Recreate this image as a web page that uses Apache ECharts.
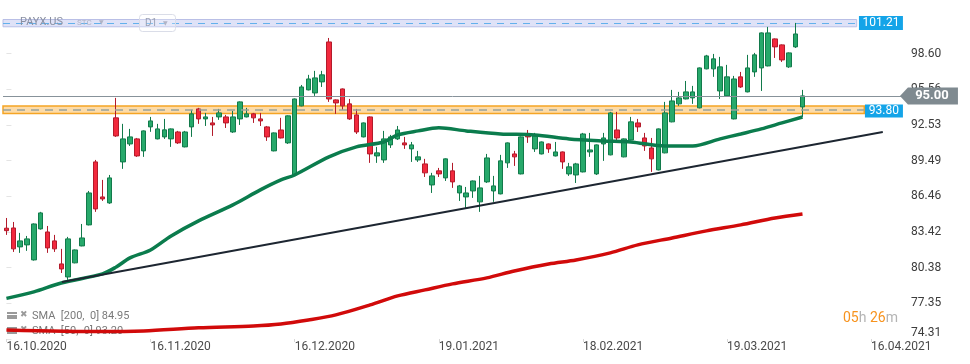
<!DOCTYPE html>
<html><head><meta charset="utf-8">
<script src="https://cdn.jsdelivr.net/npm/echarts@6/dist/echarts.min.js"></script>
<style>html,body{margin:0;padding:0;background:#fff}#c{width:970px;height:364px}</style>
</head><body><div id="c"></div>
<script>
// ---- data ----
const categoryCount = 131; // trading-day slots incl. future area
const tickPositions = [0, 21, 42, 63, 84, 105, 126];
const tickLabels = ['16.10.2020','16.11.2020','16.12.2020','19.01.2021','18.02.2021','19.03.2021','16.04.2021'];
const yTicks = [74.31, 77.35, 80.38, 83.42, 86.46, 89.49, 92.53, 95.56, 98.60];
// [open, close, low, high]
const ohlc = [
[83.74,83.53,83.17,84.61],[83.76,81.98,81.72,84.27],[82.15,82.66,81.64,83.34],[82.32,82.83,81.81,83.08],
[81.04,84.10,80.98,84.15],[83.68,85.04,83.62,85.13],[83.42,82.06,81.64,83.93],[82.66,81.98,81.72,83.17],
[80.70,80.27,79.93,81.98],[79.59,82.83,79.34,83.00],[80.79,81.89,80.75,81.93],[82.23,82.91,82.20,84.10],
[84.02,86.74,83.98,86.91],[89.38,85.38,85.13,89.55],[86.40,86.23,86.06,87.85],[85.89,88.02,85.81,88.27],
[93.13,91.59,91.51,94.83],[89.38,91.34,88.79,92.62],[90.91,91.51,90.74,92.19],[91.34,89.89,89.81,91.42],
[90.32,92.02,89.81,92.06],[92.36,92.87,91.94,93.21],[91.34,92.19,91.30,92.62],[91.51,92.11,91.34,93.04],
[91.34,92.19,90.66,92.23],[91.93,91.00,90.91,92.02],[90.66,91.93,90.62,92.02],[92.36,93.47,91.51,93.81],
[93.89,93.04,92.62,93.98],[93.04,93.21,92.44,93.55],[92.70,92.53,91.59,93.21],[93.21,93.55,92.96,93.89],
[93.21,92.70,92.27,93.38],[91.93,93.21,91.85,93.72],[93.04,94.49,92.53,94.53],[93.21,93.47,93.17,93.98],
[93.47,93.13,92.70,93.55],[93.04,92.87,92.44,93.55],[92.36,91.51,91.17,92.44],[90.32,91.85,90.28,91.89],
[92.10,91.42,91.38,93.13],[91.00,93.30,90.91,93.34],[88.27,94.74,88.23,94.78],[94.15,95.76,94.11,95.93],
[95.51,96.44,95.47,96.79],[95.25,96.53,95.00,97.13],[96.19,96.79,95.76,97.13],[99.59,94.74,94.49,99.93],
[94.66,94.40,93.47,94.70],[95.59,94.15,93.81,95.63],[94.32,93.04,92.96,94.74],[93.38,91.93,91.76,93.89],
[91.51,92.70,91.47,92.74],[93.21,90.06,89.30,93.25],[89.89,90.15,89.30,90.66],[89.55,91.34,89.30,92.02],
[90.83,91.51,90.57,91.68],[91.34,92.10,91.25,92.44],[91.00,90.83,90.49,91.51],[90.49,90.83,89.38,91.08],
[89.55,89.81,89.38,90.32],[89.21,88.45,88.10,89.64],[87.42,88.19,86.74,88.45],[88.62,88.36,88.10,88.87],
[88.02,89.64,87.76,89.68],[88.62,87.68,87.17,89.30],[86.74,87.34,86.06,87.42],[86.40,86.74,85.47,87.25],
[86.91,87.76,86.32,87.80],[85.98,87.17,85.13,88.19],[87.68,89.72,87.59,90.06],[86.91,87.34,85.98,88.19],
[86.66,89.47,86.62,89.98],[89.30,91.00,88.87,91.04],[90.06,89.81,89.04,90.32],[88.36,91.51,88.32,91.55],
[91.59,91.51,91.00,92.10],[90.49,91.59,90.23,91.85],[90.06,91.08,90.02,91.12],[90.91,90.49,90.15,90.95],
[89.89,90.23,89.85,91.08],[90.23,89.38,88.79,90.27],[88.36,88.96,88.19,89.30],[88.27,89.21,87.59,89.30],
[88.53,91.76,88.49,91.85],[90.23,90.40,89.81,91.85],[88.36,90.83,88.27,90.87],[90.91,91.42,89.47,91.85],
[89.98,93.55,89.94,93.64],[92.10,91.42,91.00,93.64],[89.81,91.34,89.77,91.38],[91.25,92.79,91.21,93.21],
[92.70,92.36,91.93,93.04],[91.42,90.74,90.32,91.85],[90.57,89.64,88.53,91.42],[88.70,92.19,88.66,92.23],
[90.15,93.55,90.11,94.49],[92.79,94.57,92.75,95.51],[94.32,94.83,94.15,95.34],[94.74,95.34,94.70,96.27],
[94.83,95.34,94.32,95.85],[93.98,97.38,93.94,97.42],[97.30,98.40,97.26,98.49],[97.30,98.15,96.62,98.57],
[95.42,97.47,94.74,98.32],[95.00,96.62,94.96,97.64],[93.04,96.44,93.00,96.70],[96.62,95.76,95.68,97.04],
[95.34,97.38,95.30,98.49],[97.04,98.49,96.62,98.66],[97.38,100.36,95.42,100.40],[97.55,100.36,97.51,100.87],
[99.85,99.17,98.23,99.89],[99.34,98.06,97.89,99.38],[97.47,98.66,97.38,98.70],[99.17,100.27,99.08,101.21],
[94.06,95.00,93.21,95.51]
];
// [slot index, value]
const sma50 = [[0,77.77],[4,78.32],[8,79.08],[14,79.85],[16,80.44],[18,81.21],[21,81.89],[24,83.08],[28,84.36],
[33,85.72],[37,87.00],[40,87.85],[42,88.27],[47,89.81],[51,90.66],[55,91.08],[57,91.68],[60,92.02],[63,92.28],
[67,92.02],[72,91.76],[77,91.68],[82,91.34],[87,91.17],[91,91.08],[96,90.74],[100,90.74],[104,91.34],[107,91.76],
[110,92.19],[113,92.70],[116,93.20]];
const sma200 = [[0,75.08],[14,74.94],[20,75.00],[28,75.26],[36,75.42],[40,75.59],[44,75.93],[48,76.36],[53,77.21],
[57,77.98],[61,78.49],[65,79.00],[70,79.51],[74,80.10],[79,80.70],[83,81.04],[88,81.64],[92,82.32],[97,82.91],
[102,83.51],[107,84.02],[112,84.61],[116,84.95]];
const trendLine = [[8.1,79.16],[127.7,91.93]];
const resistance = 101.21, resistanceBand = [100.88, 101.50], resistanceEnd = 123.9;
const support = 93.80, supportBand = [93.50, 94.13], supportEnd = 125.0;
const lastPrice = 95.00;
const sma200Label = 'SMA  [200,  0] 84.95';
const sma50Label = 'SMA  [50,  0] 93.20';
// ---------------------------------------

const cats = Array.from({length: categoryCount}, (_, i) => String(i));
const tickSet = new Set(tickPositions);
const labelMap = {};
tickPositions.forEach((p, k) => labelMap[p] = tickLabels[k]);
const FONT = 'Roboto, "Noto Sans", sans-serif';
const xMax = categoryCount - 0.5;

const chart = echarts.init(document.getElementById('c'), null, {renderer: 'canvas', width: 970, height: 364});
chart.setOption({
  animation: false,
  backgroundColor: '#ffffff',
  grid: {left: 3, right: 68, top: 0, bottom: 25, outerBoundsMode: 'none', containLabel: false},
  xAxis: [
    {type: 'category', data: cats, boundaryGap: true,
     axisLine: {show: false},
     axisTick: {show: true, interval: (i) => tickSet.has(i), alignWithLabel: true, length: 3, lineStyle: {color: '#d8d8d8'}},
     axisLabel: {interval: (i) => tickSet.has(i), formatter: (v, i) => labelMap[i] || '', align: 'left',
                 color: '#4a4a4a', fontSize: 12, fontFamily: FONT, margin: 2},
     splitLine: {show: false}},
    {type: 'value', min: -0.5, max: xMax, show: false}
  ],
  yAxis: {type: 'value', position: 'right', min: 74.31, max: 103.16,
    splitLine: {show: false}, axisLine: {show: false},
    axisTick: {show: true, customValues: yTicks, length: 5, lineStyle: {color: '#e4e4e4'}},
    axisLabel: {customValues: yTicks, margin: 9, color: '#3c3c3c', fontSize: 12, fontFamily: FONT, align: 'left',
      formatter: (v) => Math.abs(v - yTicks[0]) < 0.001 ? '{b|' + v.toFixed(2) + '}' : v.toFixed(2),
      rich: {b: {padding: [0, 0, 12, 0], color: '#3c3c3c', fontSize: 12, fontFamily: FONT}}}
  },
  series: [
    {type: 'candlestick', data: ohlc, barWidth: 5, z: 2,
     itemStyle: {color: '#27a96b', color0: '#f2293d', borderColor: '#127a4b', borderColor0: '#b31b2b', borderWidth: 1}},
    {type: 'line', xAxisIndex: 1, data: sma200, showSymbol: false, symbol: 'none', smooth: 0.3, z: 3,
     lineStyle: {color: '#d10a0a', width: 3.5}},
    {type: 'line', xAxisIndex: 1, data: sma50, showSymbol: false, symbol: 'none', smooth: 0.3, z: 3,
     lineStyle: {color: '#0b7c4d', width: 3.5}},
    {type: 'line', xAxisIndex: 1, data: trendLine, showSymbol: false, symbol: 'none', z: 4,
     lineStyle: {color: '#1d2631', width: 2}},
    {type: 'line', xAxisIndex: 1, data: [[-0.5, null]], showSymbol: false, symbol: 'none', z: 5, silent: true,
     markArea: {silent: true, data: [
       [{coord: [-0.5, resistanceBand[1]], itemStyle: {color: 'rgba(196,202,240,0.55)', borderColor: '#b9bfe6', borderWidth: 1}},
        {coord: [resistanceEnd, resistanceBand[0]]}],
       [{coord: [-0.5, supportBand[1]], itemStyle: {color: 'rgba(252,184,80,0.5)', borderColor: '#f5a524', borderWidth: 1.5}},
        {coord: [supportEnd, supportBand[0]]}]
     ]},
     markLine: {silent: true, symbol: ['none', 'none'], label: {show: false}, data: [
       [{coord: [-0.5, resistance], lineStyle: {color: '#62b1ec', width: 1, type: [7, 6]}}, {coord: [resistanceEnd + 0.3, resistance]}],
       [{coord: [-0.5, support], lineStyle: {color: '#98a39c', width: 1.5, type: [8, 6]}}, {coord: [supportEnd, support]}],
       [{coord: [-0.5, lastPrice], lineStyle: {color: '#87929a', width: 1, type: 'solid'}}, {coord: [xMax, lastPrice]}]
     ]},
     markPoint: {silent: true, data: [
       {coord: [xMax - 0.01, resistance], symbol: 'rect', symbolSize: [44, 14], symbolOffset: [-21, 0],
        itemStyle: {color: '#14a4e8'},
        label: {show: true, position: 'inside', formatter: resistance.toFixed(2), color: '#fff', fontSize: 12, fontFamily: FONT}},
       {coord: [xMax - 0.01, support], symbol: 'rect', symbolSize: [38, 13], symbolOffset: [-18, 1],
        itemStyle: {color: '#14a4e8'},
        label: {show: true, position: 'inside', formatter: support.toFixed(2), color: '#fff', fontSize: 12, fontFamily: FONT}},
       {coord: [xMax - 0.01, lastPrice], symbol: 'path://M0,8.5 L8,0 L58,0 L58,17 L8,17 Z', symbolSize: [58, 17],
        symbolOffset: [27, 0], symbolKeepAspect: false,
        itemStyle: {color: '#7f8a90'},
        label: {show: true, position: 'inside', offset: [3, 0], formatter: lastPrice.toFixed(2), color: '#fff',
                fontSize: 13, fontWeight: 'bold', fontFamily: FONT}}
     ]}
    }
  ],
  graphic: [
    {type: 'text', left: 20, top: 17, z: 10, style: {text: 'PAYX.US', font: '11px Roboto', fill: '#8a90a2'}},
    {type: 'text', left: 77, top: 19, z: 10, style: {text: 'STC', font: '8px Roboto', fill: '#b0b4c6'}},
    {type: 'text', left: 99, top: 19, z: 10, style: {text: '▼', font: '6px "DejaVu Sans"', fill: '#b0b4c6'}},
    {type: 'rect', left: 139, top: 14, z: 10, shape: {width: 36, height: 17, r: 3}, style: {fill: 'rgba(255,255,255,0.25)', stroke: '#dadde8', lineWidth: 1}},
    {type: 'text', left: 145, top: 18, z: 10, style: {text: 'D1', font: '10px Roboto', fill: '#9aa0b4'}},
    {type: 'text', left: 163, top: 20, z: 10, style: {text: '▼', font: '6px "DejaVu Sans"', fill: '#b0b4c6'}},
    {type: 'rect', left: 7, top: 312, z: 1, shape: {width: 10, height: 2}, style: {fill: '#9a9a9a'}},
    {type: 'rect', left: 7, top: 315, z: 1, shape: {width: 10, height: 4}, style: {fill: '#9a9a9a'}},
    {type: 'text', left: 20, top: 310, z: 1, style: {text: '✖', font: '9px "DejaVu Sans"', fill: '#9a9a9a'}},
    {type: 'text', left: 32, top: 311, z: 1, style: {text: sma200Label, font: '11px Roboto', fill: '#7a7a7a'}},
    {type: 'rect', left: 7, top: 327, z: 1, shape: {width: 10, height: 2}, style: {fill: '#9a9a9a'}},
    {type: 'rect', left: 7, top: 330, z: 1, shape: {width: 10, height: 4}, style: {fill: '#9a9a9a'}},
    {type: 'text', left: 20, top: 325, z: 1, style: {text: '✖', font: '9px "DejaVu Sans"', fill: '#9a9a9a'}},
    {type: 'text', left: 32, top: 326, z: 1, style: {text: sma50Label, font: '11px Roboto', fill: '#7a7a7a'}},
    {type: 'text', left: 843, top: 311, z: 1, style: {
      text: '{o|05}{g|h}{o| 26}{g|m}',
      rich: {o: {fill: '#f7931e', font: '14px Roboto'}, g: {fill: '#b4b4b4', font: '14px Roboto'}}}}
  ]
});
</script></body></html>
